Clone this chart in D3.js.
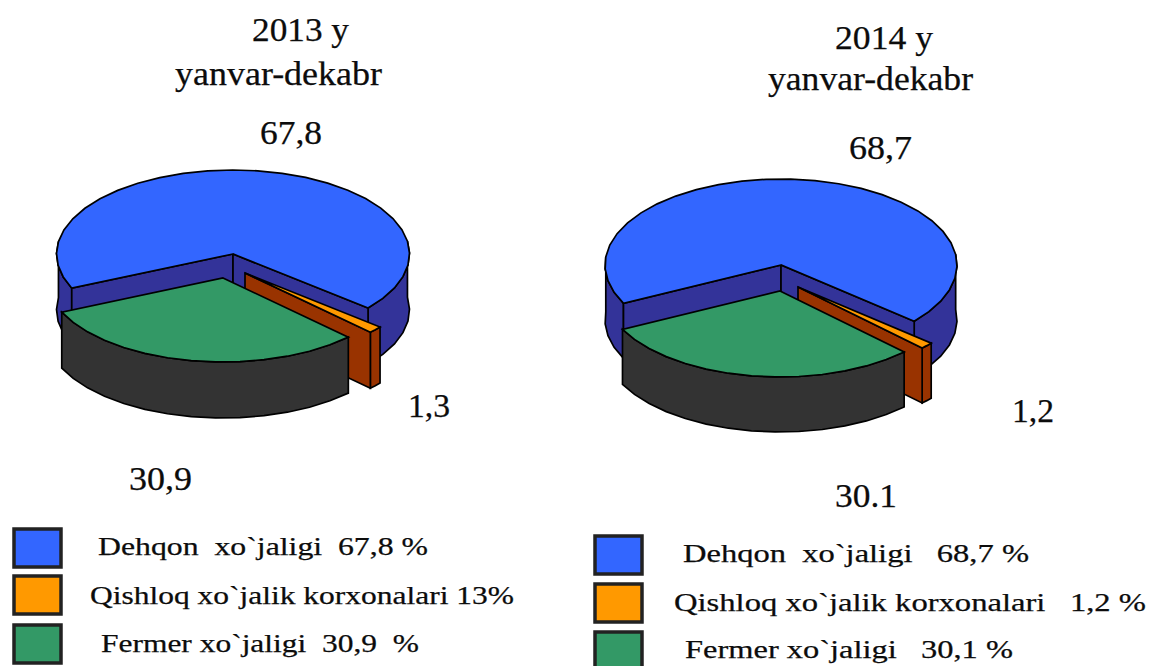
<!DOCTYPE html>
<html><head><meta charset="utf-8">
<script src="https://cdnjs.cloudflare.com/ajax/libs/d3/7.8.5/d3.min.js"></script>
<style>html,body{margin:0;padding:0;background:#fff}svg{display:block}text{font-family:"Liberation Serif",serif;fill:#0c0c0c;stroke:#0c0c0c;stroke-width:.25px}</style>
</head><body><svg id="c" width="1150" height="666"></svg>
<script>
const categories = ["Dehqon", "Qishloq", "Fermer"];
const values2013 = [67.8, 1.3, 30.9];
const values2014 = [68.7, 1.2, 30.1];
const topColors = ["#3366FF", "#FF9900", "#339966"];
const sideColors = ["#333399", "#993300", "#333333"];
const valueLabels2013 = ["67,8", "1,3", "30,9"];
const valueLabels2014 = ["68,7", "1,2", "30.1"];
const legend2013 = ["Dehqon  xo`jaligi  67,8 %", "Qishloq xo`jalik korxonalari 13%", "Fermer xo`jaligi  30,9  %"];
const legend2014 = ["Dehqon  xo`jaligi   68,7 %", "Qishloq xo`jalik korxonalari   1,2 %", "Fermer xo`jaligi   30,1 %"];

const svg = d3.select("#c");
const outline = "#000";

function drawPie(cfg) {
  const sx = d3.scaleLinear([0, 1], [0, cfg.rx]);
  const sy = d3.scaleLinear([0, 1], [0, cfg.ry]);
  const pie = d3.pie().sort(null).startAngle(cfg.start * Math.PI / 180).endAngle((cfg.start + 360) * Math.PI / 180);
  const arcs = pie(cfg.values);
  const line = d3.line().curve(d3.curveLinear);
  const g = svg.append("g").attr("stroke", outline).attr("stroke-width", 1.7).attr("stroke-linejoin", "miter");
  [0, 1, 2].forEach(i => {
    const a = arcs[i], c = cfg.apex[i];
    const rim = t => [c[0] + sx(Math.sin(t)), c[1] - sy(Math.cos(t))];
    const down = p => [p[0], p[1] + cfg.depth];
    const n = Math.max(2, Math.ceil((a.endAngle - a.startAngle) * 7));
    const ts = d3.range(n + 1).map(k => a.startAngle + (a.endAngle - a.startAngle) * k / n);
    const pts = ts.map(rim);
    // outer side: only the front-facing runs of the rim are drawn
    const runs = [];
    let cur = [];
    ts.forEach(t => {
      if (Math.cos(t) < 0.2) cur.push(rim(t));
      else { if (cur.length) runs.push(cur); cur = []; }
    });
    if (cur.length) runs.push(cur);
    runs.filter(r => r.length > 1).forEach(r =>
      g.append("path").attr("fill", sideColors[i]).attr("d", line(r.concat(r.slice().reverse().map(down))) + "Z"));
    // inner walls from the apex to each rim end that faces the viewer
    const walls = i === 0 ? [pts[0], pts[pts.length - 1]] : i === 1 ? [pts[pts.length - 1]] : [];
    walls.forEach(p => g.append("path").attr("fill", sideColors[i]).attr("d", line([c, p, down(p), down(c)]) + "Z"));
    // top face
    g.append("path").attr("fill", topColors[i]).attr("d", line([c].concat(pts)) + "Z");
  });
}

drawPie({values: values2013, start: -114, rx: 176.5, ry: 84, depth: 56,
  apex: [[233, 254], [245, 273], [223, 278]]});
drawPie({values: values2014, start: -116.5, rx: 176, ry: 86, depth: 55,
  apex: [[781, 265], [798, 287], [780, 291]]});

function label(x, y, s, size, w) {
  const t = svg.append("text").attr("x", x).attr("y", y).attr("font-size", size).style("white-space", "pre").text(s);
  if (w) t.attr("textLength", w).attr("lengthAdjust", "spacingAndGlyphs");
  return t;
}
label(252, 41, "2013 y", 33, 97);
label(175, 85, "yanvar-dekabr", 33, 207);
label(835, 49, "2014 y", 33, 98);
label(768, 90, "yanvar-dekabr", 33, 205);

label(260, 144, valueLabels2013[0], 33, 62);
label(408, 417, valueLabels2013[1], 33, 42);
label(129, 490, valueLabels2013[2], 33, 63);
label(849, 159, valueLabels2014[0], 33, 63);
label(1012, 422, valueLabels2014[1], 33, 42);
label(835, 507, valueLabels2014[2], 33, 62);

function legend(items, boxX, boxYs, textX, textY, widths) {
  items.forEach((s, i) => {
    svg.append("rect").attr("x", boxX).attr("y", boxYs[i]).attr("width", 47).attr("height", 38)
      .attr("fill", topColors[i]).attr("stroke", "#222").attr("stroke-width", 3.5);
    label(textX[i], textY[i], s, 26, widths[i]);
  });
}
legend(legend2013, 14, [529, 576, 625], [98, 90, 101], [555, 604, 652], [330, 424, 318]);
legend(legend2014, 595, [536, 584, 632], [683, 674, 685], [562, 611, 658], [346, 472, 328]);
</script></body></html>
